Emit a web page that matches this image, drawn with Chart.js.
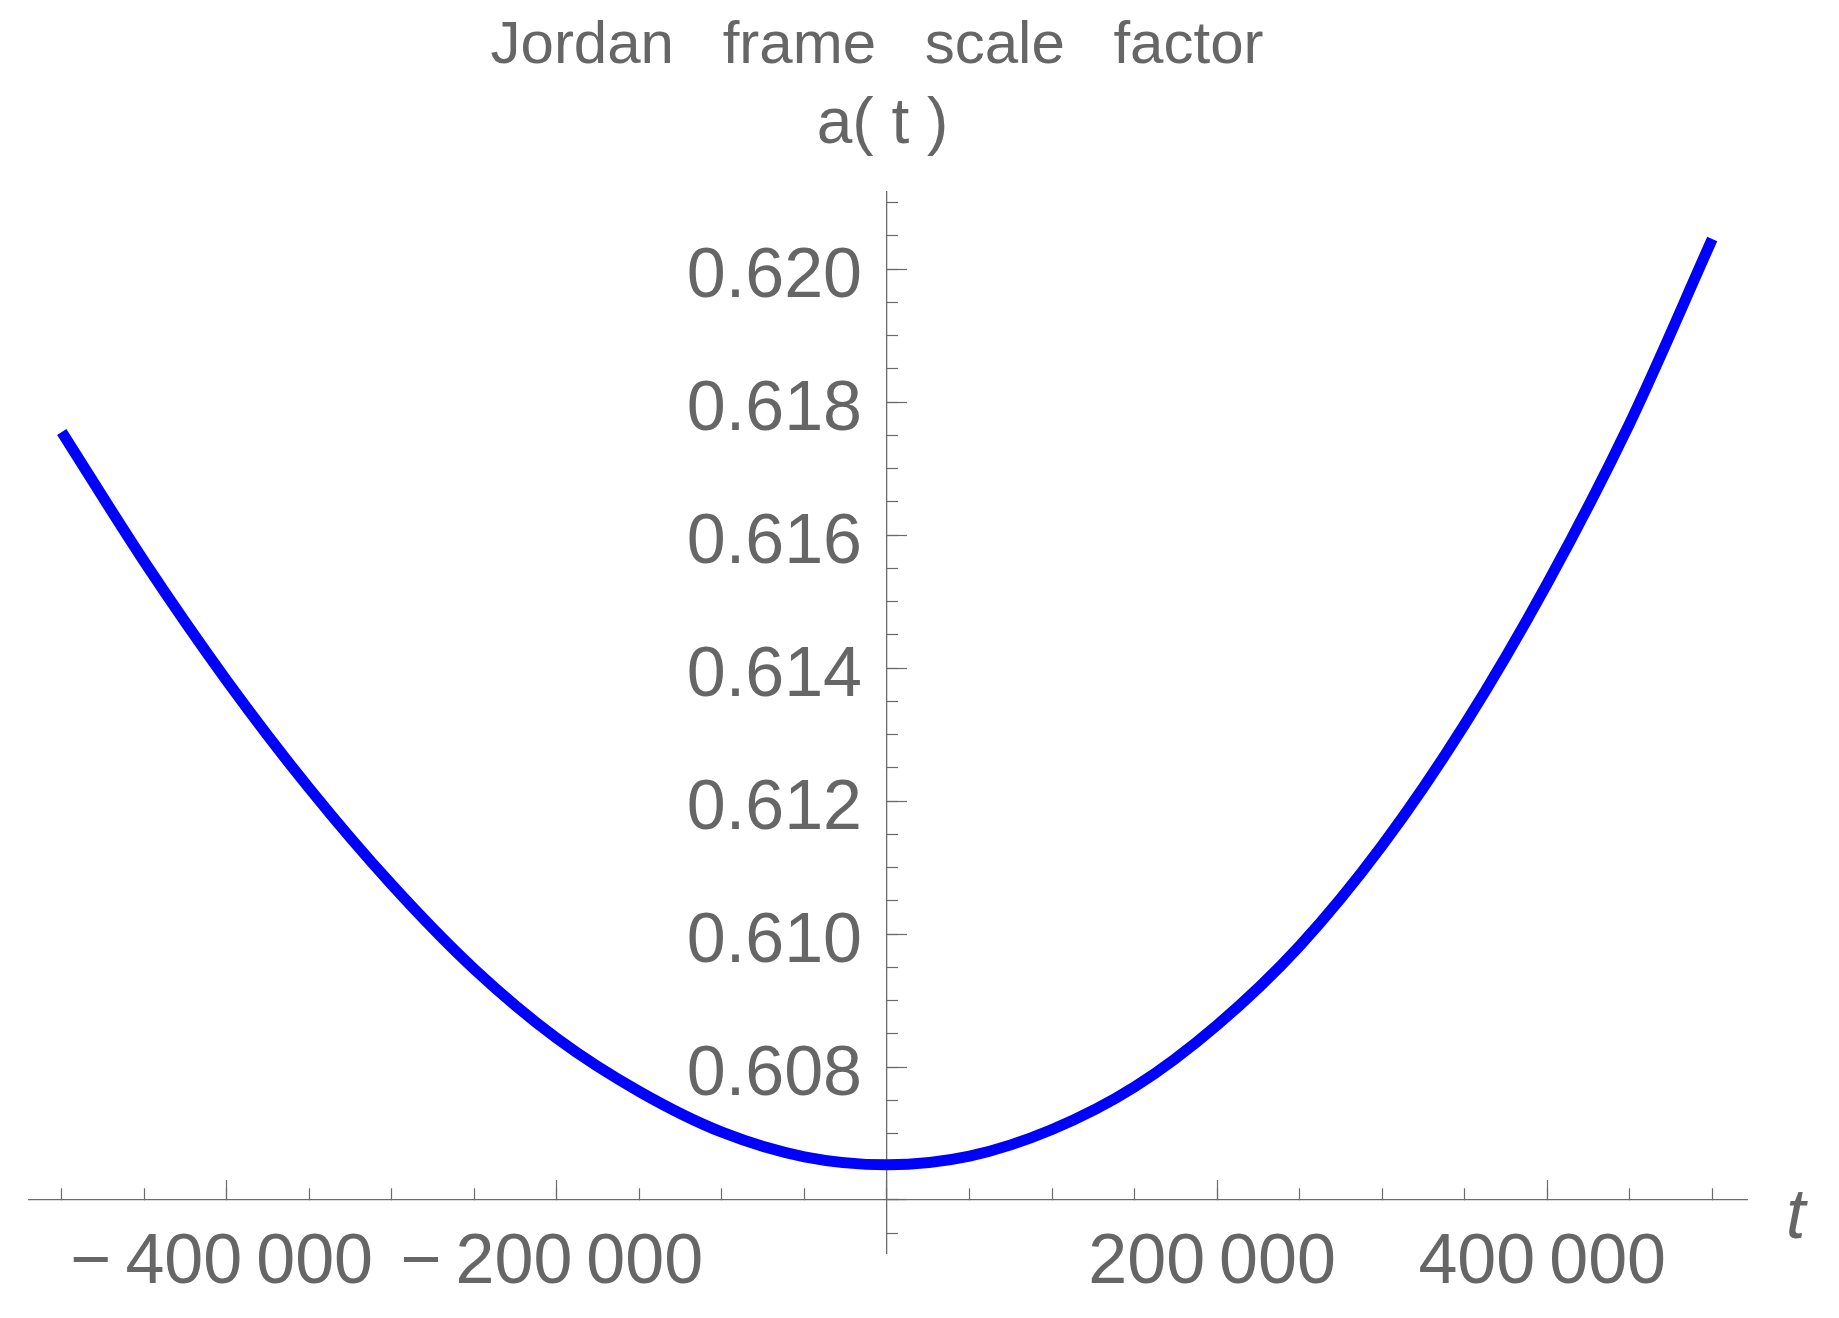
<!DOCTYPE html>
<html>
<head>
<meta charset="utf-8">
<script src="https://cdn.jsdelivr.net/npm/chart.js@4"></script>
<style>
  body { margin: 0; background: #fff; }
  #wrap { position: relative; width: 1839px; height: 1318px; }
  #grafico { position: absolute; left: 0; top: 0; }
  .txt { position: absolute; color: #666; font-family: "Liberation Sans", Arial, sans-serif; white-space: pre; }
  #titulo { font-size: 60px; line-height: 60px; top: 13px; left: 0; width: 1754px; text-align: center; word-spacing: 32px; }
  #ylab { font-size: 64px; line-height: 64px; top: 89px; left: 0; width: 1765px; text-align: center; }
  #xlab { font-size: 70px; line-height: 70px; top: 1179px; left: 1786px; font-style: italic; }
</style>
</head>
<body>
<div id="wrap">
  <canvas id="grafico" width="1839" height="1318"></canvas>
  <div class="txt" id="titulo">Jordan frame scale factor</div>
  <div class="txt" id="ylab">a( t )</div>
  <div class="txt" id="xlab">t</div>
</div>
<script>
const tempos = [-500000, -450000, -400000, -350000, -300000, -250000, -200000, -150000, -100000, -50000,
  0, 50000, 100000, 150000, 200000, 250000, 300000, 350000, 400000, 450000, 500000];
const fatorA = [0.61755, 0.61560, 0.61381, 0.61219, 0.61074, 0.60947, 0.60843, 0.60763, 0.60702, 0.60665,
  0.60653, 0.60666, 0.60706, 0.60770, 0.60863, 0.60982, 0.61133, 0.61315, 0.61527, 0.61768, 0.62045];

// posicoes dos tracos e rotulos dos eixos
const xMinorTicks = [-500000, -450000, -400000, -350000, -300000, -250000, -200000, -150000, -100000, -50000,
  0, 50000, 100000, 150000, 200000, 250000, 300000, 350000, 400000, 450000, 500000];
const xMajorTicks = [-400000, -200000, 0, 200000, 400000];
const xMajorLabels = [-400000, -200000, 200000, 400000];
const yMajorLabels = [0.608, 0.610, 0.612, 0.614, 0.616, 0.618, 0.620];

const cinza = '#6b6b6b';
const corTexto = '#666666';
const xMin = -519840, xMax = 521060;
const yMin = 0.605203, yMax = 0.621158;
const origemY = 0.606;

const pontos = tempos.map((t, i) => ({ x: t, y: fatorA[i] }));

function fmtX(v) {
  const s = Math.abs(v).toString();
  const g = s.slice(0, s.length - 3) + '\u2009' + s.slice(-3);
  return v < 0 ? '\u2212\u2009' + g : g;
}

function fixarTicks(valores) {
  return (scale) => { scale.ticks = valores.map(v => ({ value: v })); };
}

const semTicks = { drawOnChartArea: false, drawTicks: false };
const ctx = document.getElementById('grafico').getContext('2d');

const grafico = new Chart(ctx, {
  type: 'line',
  data: {
    datasets: [{
      data: pontos,
      borderColor: '#0000ff',
      borderWidth: 11,
      pointRadius: 0,
      cubicInterpolationMode: 'monotone',
      fill: false
    }]
  },
  options: {
    animation: false,
    responsive: false,
    devicePixelRatio: 1,
    layout: { padding: { left: 29, right: 92, top: 192, bottom: 65 } },
    plugins: { legend: { display: false }, title: { display: false }, tooltip: { enabled: false } },
    scales: {
      x: {
        type: 'linear', min: xMin, max: xMax, position: { y: origemY },
        border: { display: true, color: cinza, width: 1.3 },
        grid: { drawOnChartArea: false, drawTicks: true, tickLength: -12, tickColor: cinza, tickWidth: 1.2 },
        afterBuildTicks: fixarTicks(xMinorTicks),
        ticks: { autoSkip: false, callback: () => '' }
      },
      xMajor: {
        axis: 'x', type: 'linear', min: xMin, max: xMax, position: { y: origemY },
        border: { display: false },
        grid: { drawOnChartArea: false, drawTicks: true, tickLength: -20, tickColor: cinza, tickWidth: 1.2 },
        afterBuildTicks: fixarTicks(xMajorTicks),
        ticks: { autoSkip: false, callback: () => '' }
      },
      xLabels: {
        axis: 'x', type: 'linear', min: xMin, max: xMax, position: { y: 0.605669 },
        border: { display: false },
        grid: semTicks,
        afterBuildTicks: fixarTicks(xMajorLabels),
        ticks: {
          autoSkip: false, padding: 0, labelOffset: -5, maxRotation: 0, minRotation: 0,
          color: corTexto, font: { family: 'Liberation Sans', size: 70 },
          callback: (v) => fmtX(v)
        }
      },
      y: {
        type: 'linear', min: yMin, max: yMax, position: { x: 0 },
        border: { display: true, color: cinza, width: 1.3 },
        grid: { drawOnChartArea: false, drawTicks: true, tickLength: -12, tickColor: cinza, tickWidth: 1.2 },
        ticks: { stepSize: 0.0005, includeBounds: false, autoSkip: false, callback: () => '' }
      },
      yMajor: {
        axis: 'y', type: 'linear', min: yMin, max: yMax, position: { x: 0 },
        border: { display: false },
        grid: { drawOnChartArea: false, drawTicks: true, tickLength: -20, tickColor: cinza, tickWidth: 1.2 },
        ticks: { stepSize: 0.002, includeBounds: false, autoSkip: false, callback: () => '' }
      },
      yLabels: {
        axis: 'y', type: 'linear', min: yMin, max: yMax, position: { x: -15147 },
        border: { display: false },
        grid: semTicks,
        afterBuildTicks: fixarTicks(yMajorLabels),
        ticks: {
          autoSkip: false, padding: 0, labelOffset: 9,
          color: corTexto, font: { family: 'Liberation Sans', size: 70 },
          callback: (v) => v.toFixed(3)
        }
      }
    }
  }
});
</script>
</body>
</html>
